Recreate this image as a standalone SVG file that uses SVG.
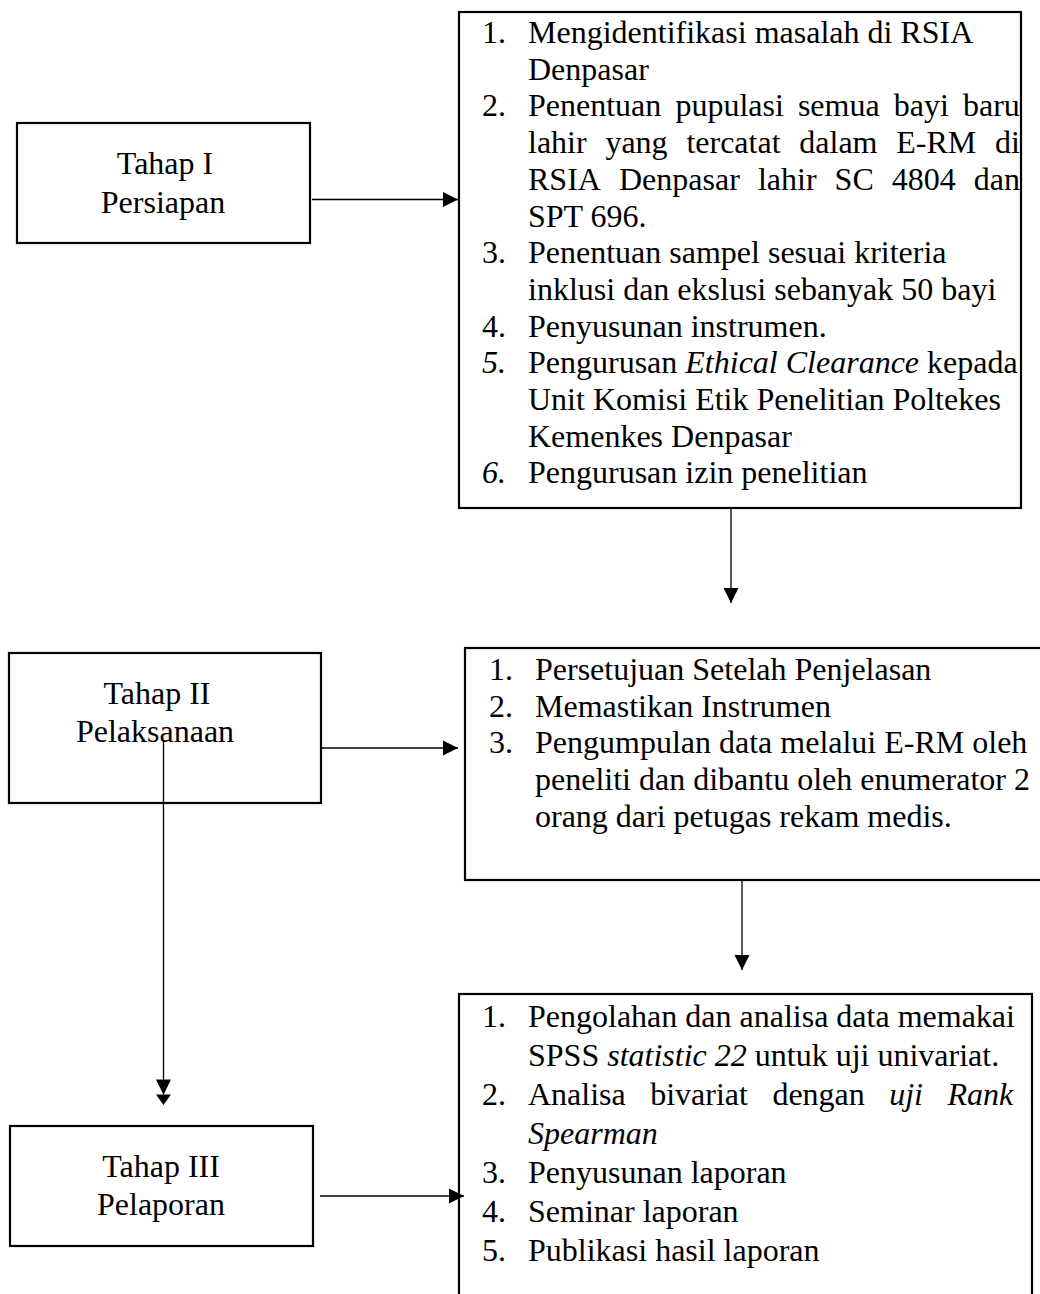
<svg xmlns="http://www.w3.org/2000/svg" width="1040" height="1294" viewBox="0 0 1040 1294">
<style>
.box{fill:none;stroke:#000;stroke-width:2.2}
.t{font-family:"Liberation Serif","Times New Roman",serif;font-size:32px;fill:#000}
.i{font-style:italic}
.c{text-anchor:middle}
.edge{stroke:#000;stroke-width:1.3;fill:none}
</style>
<defs>
<marker id="arr" markerUnits="userSpaceOnUse" markerWidth="15" markerHeight="16" refX="15" refY="8" orient="auto">
<path d="M0,0.5 L15,8 L0,15.5 z" fill="#000"/>
</marker>
</defs>
<rect width="1040" height="1294" fill="#fff"/>

<g id="tahap1">
<rect class="box" x="17" y="123" width="293" height="120"/>
<text class="t c" x="165" y="174">Tahap I</text>
<text class="t c" x="163" y="213">Persiapan</text>
</g>

<g id="persiapan-list">
<rect class="box" x="459" y="12" width="562" height="496"/>
<text class="t" x="482" y="43">1.</text>
<text class="t" x="528" y="43">Mengidentifikasi masalah di RSIA</text>
<text class="t" x="528" y="79.7">Denpasar</text>
<text class="t" x="482" y="116.4">2.</text>
<text class="t" y="116.4"><tspan x="528">Penentuan</tspan><tspan x="675.4">pupulasi</tspan><tspan x="797.9">semua</tspan><tspan x="893.8">bayi</tspan><tspan x="963">baru</tspan></text>
<text class="t" y="153.1"><tspan x="528">lahir</tspan><tspan x="605.4">yang</tspan><tspan x="686.4">tercatat</tspan><tspan x="799.3">dalam</tspan><tspan x="896.3">E-RM</tspan><tspan x="995">di</tspan></text>
<text class="t" y="189.8"><tspan x="528">RSIA</tspan><tspan x="619">Denpasar</tspan><tspan x="757.9">lahir</tspan><tspan x="834.6">SC</tspan><tspan x="891.8">4804</tspan><tspan x="973.8">dan</tspan></text>
<text class="t" x="528" y="226.5">SPT 696.</text>
<text class="t" x="482" y="263.2">3.</text>
<text class="t" x="528" y="263.2">Penentuan sampel sesuai kriteria</text>
<text class="t" x="528" y="299.9">inklusi dan ekslusi sebanyak 50 bayi</text>
<text class="t" x="482" y="336.6">4.</text>
<text class="t" x="528" y="336.6">Penyusunan instrumen.</text>
<text class="t i" x="482" y="373.3">5.</text>
<text class="t" x="528" y="373.3">Pengurusan <tspan class="i">Ethical Clearance</tspan> kepada</text>
<text class="t" x="528" y="410">Unit Komisi Etik Penelitian Poltekes</text>
<text class="t" x="528" y="446.7">Kemenkes Denpasar</text>
<text class="t i" x="482" y="483.4">6.</text>
<text class="t" x="528" y="483.4">Pengurusan izin penelitian</text>
</g>

<g id="tahap2">
<rect class="box" x="9" y="653" width="312" height="150"/>
<text class="t c" x="157" y="704">Tahap II</text>
<text class="t c" x="155" y="742">Pelaksanaan</text>
</g>

<g id="pelaksanaan-list">
<rect class="box" x="465" y="648" width="600" height="232"/>
<text class="t" x="489" y="680">1.</text>
<text class="t" x="535" y="680">Persetujuan Setelah Penjelasan</text>
<text class="t" x="489" y="717">2.</text>
<text class="t" x="535" y="717">Memastikan Instrumen</text>
<text class="t" x="489" y="753">3.</text>
<text class="t" x="535" y="753">Pengumpulan data melalui E-RM oleh</text>
<text class="t" x="535" y="790">peneliti dan dibantu oleh enumerator 2</text>
<text class="t" x="535" y="827">orang dari petugas rekam medis.</text>
</g>

<g id="tahap3">
<rect class="box" x="10" y="1126" width="303" height="120"/>
<text class="t c" x="161" y="1177">Tahap III</text>
<text class="t c" x="161" y="1215">Pelaporan</text>
</g>

<g id="pelaporan-list">
<rect class="box" x="459" y="994" width="573" height="330"/>
<text class="t" x="482" y="1027">1.</text>
<text class="t" x="528" y="1027">Pengolahan dan analisa data memakai</text>
<text class="t" x="528" y="1066">SPSS <tspan class="i">statistic 22</tspan> untuk uji univariat.</text>
<text class="t" x="482" y="1105">2.</text>
<text class="t" y="1105"><tspan x="528">Analisa</tspan><tspan x="650.2">bivariat</tspan><tspan x="772.4">dengan</tspan><tspan class="i" x="889.2">uji</tspan><tspan class="i" x="947.4">Rank</tspan></text>
<text class="t i" x="528" y="1144">Spearman</text>
<text class="t" x="482" y="1183">3.</text>
<text class="t" x="528" y="1183">Penyusunan laporan</text>
<text class="t" x="482" y="1222">4.</text>
<text class="t" x="528" y="1222">Seminar laporan</text>
<text class="t" x="482" y="1261">5.</text>
<text class="t" x="528" y="1261">Publikasi hasil laporan</text>
</g>

<g id="connectors">
<line class="edge" x1="312" y1="199.5" x2="458" y2="199.5" marker-end="url(#arr)"/>
<line class="edge" x1="731" y1="508" x2="731" y2="603" marker-end="url(#arr)"/>
<line class="edge" x1="322" y1="748" x2="458" y2="748" marker-end="url(#arr)"/>
<line class="edge" x1="742" y1="880" x2="742" y2="970" marker-end="url(#arr)"/>
<line class="edge" x1="163.5" y1="741" x2="163.5" y2="1090"/>
<path d="M156,1079.5 L171,1079.5 L163.5,1095 z M156,1094.5 L171,1094.5 L163.5,1105 z" fill="#000"/>
<line class="edge" x1="320" y1="1196" x2="464" y2="1196" marker-end="url(#arr)"/>
</g>
</svg>
